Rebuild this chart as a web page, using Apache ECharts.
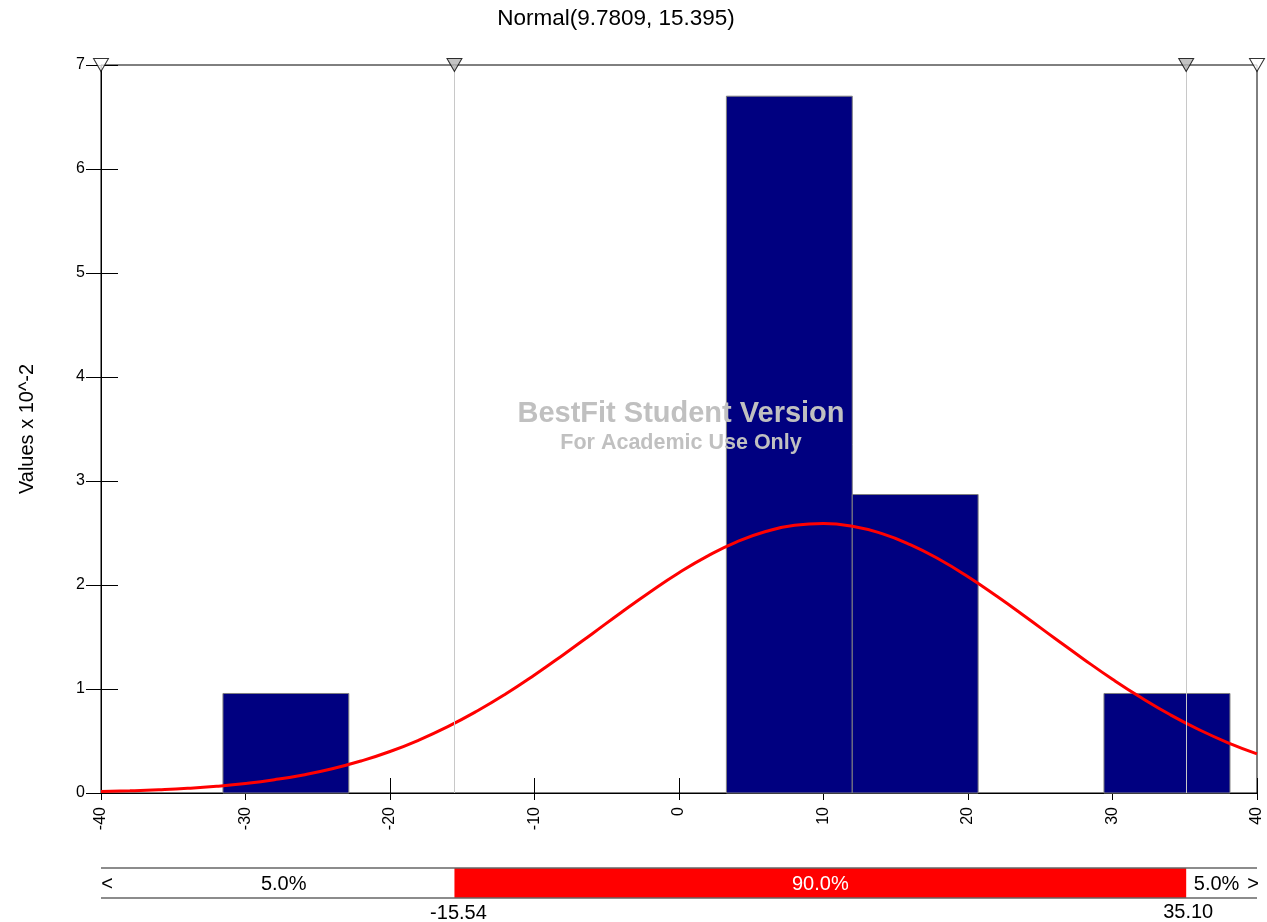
<!DOCTYPE html>
<html>
<head>
<meta charset="utf-8">
<script src="https://cdn.jsdelivr.net/npm/echarts@6/dist/echarts.min.js"></script>
<style>
html,body{margin:0;padding:0;background:#fff;}
#c{width:1267px;height:922px;}
</style>
</head>
<body>
<div id="c"></div>
<script>
const titleText = 'Normal(9.7809, 15.395)';
const yAxisName = 'Values x 10^-2';
const binEdges = [-31.56, -22.85, -14.14, -5.43, 3.28, 11.99, 20.70, 29.41, 38.13];
const binHeights = [0.957, 0, 0, 0, 6.70, 2.87, 0, 0.957];
const curveX = [-40,-38,-36,-34,-32,-30,-28,-26,-24,-22,-20,-18,-16,-14,-12,-10,-8,-6,-4,-2,0,2,4,6,8,10,12,14,16,18,20,22,24,26,28,30,32,34,36,38,40];
const curveY = [0.014,0.021,0.031,0.045,0.065,0.092,0.128,0.174,0.233,0.308,0.399,0.509,0.638,0.786,0.952,1.135,1.330,1.532,1.736,1.933,2.118,2.280,2.415,2.514,2.574,2.591,2.565,2.496,2.388,2.247,2.079,1.891,1.692,1.488,1.287,1.094,0.915,0.752,0.608,0.483,0.377];
const xRange = [-40, 40];
const percentiles = [-15.54, 35.10];
const percentileLabels = ['-15.54', '35.10'];
const bandLabels = ['5.0%', '90.0%', '5.0%'];
const watermark = ['BestFit Student Version', 'For Academic Use Only'];

const FONT = '"Liberation Sans", Arial, Helvetica, sans-serif';
const chart = echarts.init(document.getElementById('c'));

const barData = [];
for (let i = 0; i < binHeights.length; i++) {
  if (binHeights[i] > 0) barData.push([binEdges[i], binEdges[i + 1], binHeights[i]]);
}
const curveData = curveX.map((x, i) => [x, curveY[i]]);
const markerData = [
  {value: [xRange[0], 7], itemStyle: {color: '#ffffff'}},
  {value: [percentiles[0], 7], itemStyle: {color: '#b4b4b4'}},
  {value: [percentiles[1], 7], itemStyle: {color: '#b4b4b4'}},
  {value: [xRange[1], 7], itemStyle: {color: '#ffffff'}}
];

const option = {
  animation: false,
  backgroundColor: '#ffffff',
  grid: {left: 101, right: 10, top: 65, bottom: 129, show: true, borderColor: '#000', borderWidth: 1, backgroundColor: 'transparent'},
  xAxis: [
    {type: 'value', min: -40, max: 40, interval: 10, position: 'bottom',
     axisLine: {show: true, onZero: false, lineStyle: {color: '#000', width: 1}},
     axisTick: {show: true, inside: false, length: 7, lineStyle: {color: '#000'}},
     axisLabel: {rotate: 90, margin: 14, color: '#000', fontSize: 16, fontFamily: FONT, showMinLabel: true, showMaxLabel: true},
     splitLine: {show: false}},
    {type: 'value', min: -40, max: 40, interval: 10, position: 'bottom', offset: 0,
     axisLine: {show: false, onZero: false},
     axisTick: {show: true, inside: true, length: 15, lineStyle: {color: '#000'}},
     axisLabel: {show: false}, splitLine: {show: false}}
  ],
  yAxis: [
    {type: 'value', min: 0, max: 7, interval: 1, position: 'left',
     name: yAxisName, nameLocation: 'middle', nameRotate: 90, nameGap: 64,
     nameTextStyle: {color: '#000', fontSize: 20, fontFamily: FONT},
     axisLine: {show: true, onZero: false, lineStyle: {color: '#000', width: 1}},
     axisTick: {show: true, inside: false, length: 15, lineStyle: {color: '#000'}},
     axisLabel: {margin: 16, color: '#000', fontSize: 16, fontFamily: FONT, showMinLabel: true, showMaxLabel: true},
     splitLine: {show: false}},
    {type: 'value', min: 0, max: 7, interval: 1, position: 'left', offset: 0,
     axisLine: {show: false, onZero: false},
     axisTick: {show: true, inside: true, length: 17, lineStyle: {color: '#000'}},
     axisLabel: {show: false}, splitLine: {show: false}}
  ],
  series: [
    {type: 'custom', z: 2, data: barData, encode: {x: [0, 1], y: 2},
     renderItem: function (params, api) {
       const p0 = api.coord([api.value(0), api.value(2)]);
       const p1 = api.coord([api.value(1), 0]);
       return {type: 'rect',
         shape: {x: p0[0], y: p0[1], width: p1[0] - p0[0], height: p1[1] - p0[1]},
         style: {fill: '#000080', stroke: '#808080', lineWidth: 1}};
     }},
    {type: 'scatter', z: 3, data: [], silent: true,
     markLine: {silent: true, symbol: 'none', label: {show: false},
       lineStyle: {color: '#c8c8c8', width: 1, type: 'solid'},
       data: percentiles.map(p => ({xAxis: p}))}},
    {type: 'line', z: 4, data: curveData, smooth: true, showSymbol: false, symbol: 'none',
     lineStyle: {color: '#ff0000', width: 3}},
    {type: 'scatter', z: 6, data: markerData, symbol: 'triangle', symbolRotate: 180, symbolSize: [15, 13],
     clip: false, silent: true, itemStyle: {borderColor: '#000', borderWidth: 1}}
  ]
};
chart.setOption(option);

const px = v => chart.convertToPixel({xAxisIndex: 0}, v);
const xl = px(xRange[0]), xr = px(xRange[1]);
const p1 = px(percentiles[0]), p2 = px(percentiles[1]);
const bandTop = 868, bandH = 30, bandMid = bandTop + bandH / 2 + 1;

const graphics = [
  {type: 'text', x: 616, y: 19, z: 10, style: {text: titleText, fill: '#000', font: '22.5px ' + FONT, textAlign: 'center', textVerticalAlign: 'middle'}},
  {type: 'text', x: 681, y: 414, z: 20, style: {text: watermark[0], fill: '#c0c0c0', font: 'bold 29px ' + FONT, textAlign: 'center', textVerticalAlign: 'middle'}},
  {type: 'text', x: 681, y: 443, z: 20, style: {text: watermark[1], fill: '#c0c0c0', font: 'bold 21.5px ' + FONT, textAlign: 'center', textVerticalAlign: 'middle'}},
  {type: 'rect', z: 5, shape: {x: p1, y: bandTop, width: p2 - p1, height: bandH}, style: {fill: '#ff0000'}},
  {type: 'line', z: 6, shape: {x1: xl, y1: bandTop, x2: xr, y2: bandTop}, style: {stroke: '#666', lineWidth: 1.5}},
  {type: 'line', z: 6, shape: {x1: xl, y1: bandTop + bandH, x2: xr, y2: bandTop + bandH}, style: {stroke: '#666', lineWidth: 1.5}},
  {type: 'text', x: xl + 6, y: bandMid, z: 7, style: {text: '<', fill: '#000', font: '20px ' + FONT, textAlign: 'center', textVerticalAlign: 'middle'}},
  {type: 'text', x: xr - 4, y: bandMid, z: 7, style: {text: '>', fill: '#000', font: '20px ' + FONT, textAlign: 'center', textVerticalAlign: 'middle'}},
  {type: 'text', x: (xl + 12 + p1) / 2, y: bandMid, z: 7, style: {text: bandLabels[0], fill: '#000', font: '20px ' + FONT, textAlign: 'center', textVerticalAlign: 'middle'}},
  {type: 'text', x: (p1 + p2) / 2, y: bandMid, z: 7, style: {text: bandLabels[1], fill: '#fff', font: '20px ' + FONT, textAlign: 'center', textVerticalAlign: 'middle'}},
  {type: 'text', x: (p2 + xr - 10) / 2, y: bandMid, z: 7, style: {text: bandLabels[2], fill: '#000', font: '20px ' + FONT, textAlign: 'center', textVerticalAlign: 'middle'}},
  {type: 'text', x: p1 + 4, y: 913, z: 7, style: {text: percentileLabels[0], fill: '#000', font: '20px ' + FONT, textAlign: 'center', textVerticalAlign: 'middle'}},
  {type: 'text', x: p2 + 2, y: 912, z: 7, style: {text: percentileLabels[1], fill: '#000', font: '20px ' + FONT, textAlign: 'center', textVerticalAlign: 'middle'}}
];
chart.setOption({graphic: graphics});
</script>
</body>
</html>
